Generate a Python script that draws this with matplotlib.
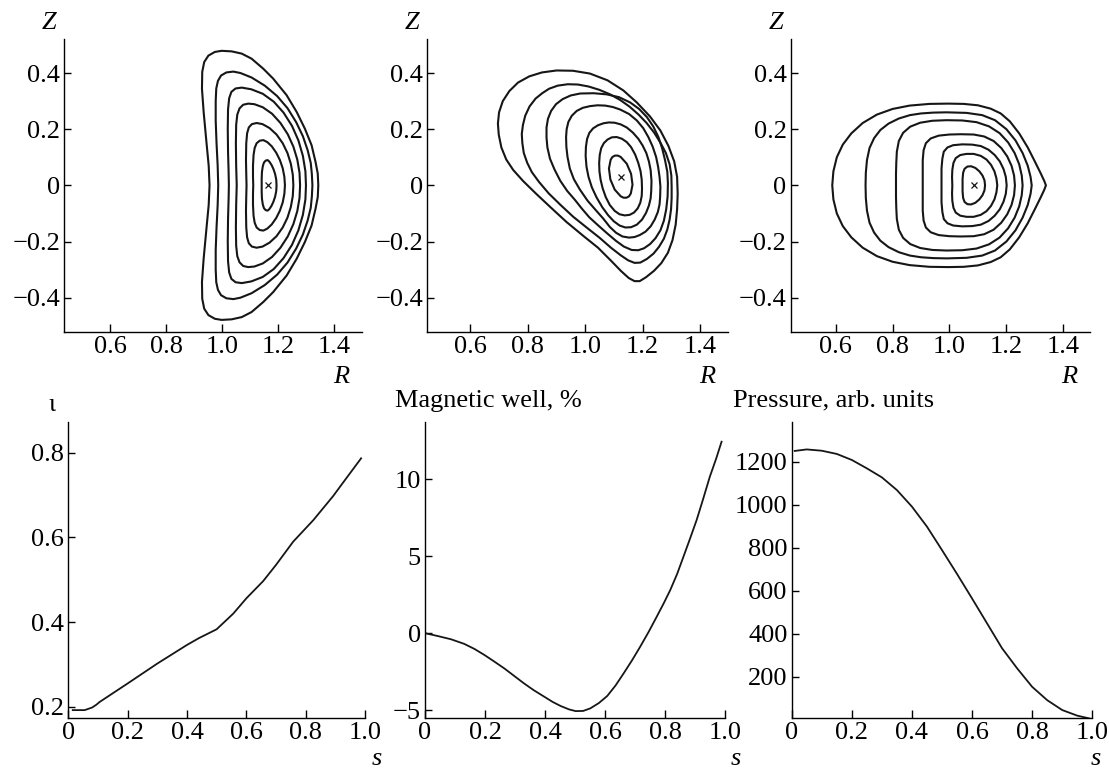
import matplotlib.pyplot as plt
from matplotlib.patches import Polygon
import numpy as np

plt.rcParams["font.family"] = ["Liberation Serif", "DejaVu Serif"]
plt.rcParams["font.size"] = 19
plt.rcParams["axes.linewidth"] = 1.0
plt.rcParams["xtick.direction"] = "in"
plt.rcParams["ytick.direction"] = "in"
plt.rcParams["xtick.major.size"] = 6
plt.rcParams["ytick.major.size"] = 5
plt.rcParams["xtick.major.width"] = 1.0
plt.rcParams["ytick.major.width"] = 1.0
plt.rcParams["xtick.major.pad"] = 3
plt.rcParams["ytick.major.pad"] = 3

INK = "#161616"

# Flux surfaces in three cross-sections, (R, Z) pairs.
# Sections a and c are up-down symmetric: only the upper half is listed,
# from the outboard midplane round to the inboard one.
surfaces_a = [
    [(1.343, 0.000), (1.341, 0.042), (1.333, 0.084), (1.319, 0.143), (1.295, 0.202), (1.266, 0.261),
     (1.230, 0.321), (1.182, 0.380), (1.147, 0.415), (1.105, 0.451), (1.070, 0.469), (1.034, 0.477),
     (0.998, 0.479), (0.974, 0.475), (0.951, 0.462), (0.936, 0.439), (0.929, 0.404), (0.928, 0.344),
     (0.934, 0.261), (0.945, 0.143), (0.952, 0.070), (0.955, 0.000)],
    [(1.322, 0.000), (1.320, 0.040), (1.316, 0.080), (1.305, 0.125), (1.288, 0.175), (1.264, 0.225),
     (1.233, 0.275), (1.196, 0.318), (1.152, 0.355), (1.105, 0.384), (1.065, 0.400), (1.040, 0.405),
     (1.015, 0.402), (0.996, 0.391), (0.985, 0.372), (0.979, 0.345), (0.977, 0.300), (0.977, 0.230),
     (0.980, 0.150), (0.984, 0.070), (0.986, 0.000)],
    [(1.299, 0.000), (1.297, 0.050), (1.288, 0.105), (1.272, 0.160), (1.249, 0.212), (1.219, 0.259),
     (1.184, 0.298), (1.145, 0.326), (1.104, 0.342), (1.070, 0.348), (1.048, 0.345), (1.033, 0.333),
     (1.025, 0.310), (1.021, 0.270), (1.020, 0.200), (1.021, 0.120), (1.023, 0.050), (1.024, 0.000)],
    [(1.278, 0.000), (1.276, 0.045), (1.268, 0.092), (1.254, 0.138), (1.234, 0.182), (1.208, 0.222),
     (1.178, 0.255), (1.145, 0.278), (1.115, 0.289), (1.093, 0.291), (1.075, 0.287), (1.062, 0.274),
     (1.054, 0.252), (1.050, 0.215), (1.049, 0.150), (1.050, 0.070), (1.052, 0.000)],
    [(1.254, 0.000), (1.252, 0.038), (1.245, 0.077), (1.233, 0.115), (1.216, 0.150), (1.194, 0.181),
     (1.169, 0.204), (1.144, 0.218), (1.123, 0.222), (1.106, 0.218), (1.095, 0.206), (1.089, 0.185),
     (1.086, 0.150), (1.085, 0.090), (1.086, 0.040), (1.087, 0.000)],
    [(1.224, 0.000), (1.222, 0.030), (1.216, 0.061), (1.206, 0.090), (1.193, 0.116), (1.177, 0.139),
     (1.161, 0.154), (1.147, 0.161), (1.134, 0.159), (1.123, 0.150), (1.116, 0.133), (1.112, 0.108),
     (1.110, 0.070), (1.110, 0.030), (1.111, 0.000)],
    [(1.194, 0.000), (1.193, 0.020), (1.189, 0.040), (1.183, 0.058), (1.176, 0.073), (1.168, 0.085),
     (1.162, 0.090), (1.155, 0.088), (1.149, 0.081), (1.145, 0.068), (1.142, 0.048), (1.141, 0.024),
     (1.141, 0.000)],
]
axis_a = (1.162, 0.0)

# section b has no symmetry, full loops
surfaces_b = [
    [(1.322, -0.030), (1.320, 0.030), (1.310, 0.085), (1.290, 0.140), (1.262, 0.195), (1.226, 0.245),
     (1.180, 0.295), (1.133, 0.338), (1.078, 0.374), (1.017, 0.398), (0.958, 0.408), (0.901, 0.409),
     (0.850, 0.402), (0.806, 0.388), (0.767, 0.366), (0.737, 0.336), (0.714, 0.300), (0.701, 0.260),
     (0.697, 0.220), (0.700, 0.180), (0.709, 0.135), (0.726, 0.092), (0.750, 0.055), (0.785, 0.015),
     (0.830, -0.030), (0.880, -0.078), (0.935, -0.130), (0.994, -0.180), (1.045, -0.222), (1.090, -0.268),
     (1.125, -0.305), (1.152, -0.330), (1.172, -0.341), (1.190, -0.341), (1.212, -0.327), (1.240, -0.304),
     (1.265, -0.277), (1.288, -0.240), (1.304, -0.195), (1.315, -0.140), (1.320, -0.085)],
    [(1.301, -0.005), (1.300, 0.035), (1.294, 0.075), (1.281, 0.115), (1.262, 0.152), (1.240, 0.188),
     (1.214, 0.222), (1.186, 0.252), (1.155, 0.280), (1.122, 0.304), (1.087, 0.324), (1.050, 0.340),
     (1.012, 0.352), (0.975, 0.359), (0.940, 0.360), (0.905, 0.355), (0.875, 0.344), (0.851, 0.328),
     (0.828, 0.309), (0.807, 0.281), (0.792, 0.248), (0.784, 0.215), (0.780, 0.183), (0.782, 0.150),
     (0.787, 0.115), (0.799, 0.080), (0.815, 0.047), (0.840, 0.012), (0.874, -0.029), (0.914, -0.069),
     (0.959, -0.112), (1.009, -0.153), (1.051, -0.187), (1.090, -0.222), (1.124, -0.249), (1.150, -0.267),
     (1.172, -0.276), (1.192, -0.275), (1.215, -0.262), (1.238, -0.243), (1.257, -0.219), (1.274, -0.190),
     (1.286, -0.157), (1.294, -0.122), (1.299, -0.085), (1.301, -0.045)],
    [(1.288, 0.007), (1.286, 0.048), (1.278, 0.090), (1.268, 0.132), (1.255, 0.172), (1.237, 0.210),
     (1.215, 0.243), (1.188, 0.272), (1.157, 0.295), (1.118, 0.314), (1.075, 0.324), (1.030, 0.328),
     (0.983, 0.327), (0.950, 0.320), (0.922, 0.307), (0.899, 0.289), (0.882, 0.265), (0.871, 0.237),
     (0.866, 0.206), (0.866, 0.170), (0.869, 0.135), (0.878, 0.095), (0.894, 0.056), (0.914, 0.016),
     (0.938, -0.020), (0.965, -0.052), (0.989, -0.083), (1.015, -0.114), (1.046, -0.143), (1.078, -0.172),
     (1.108, -0.198), (1.135, -0.218), (1.162, -0.230), (1.185, -0.231), (1.205, -0.224), (1.226, -0.209),
     (1.245, -0.188), (1.262, -0.160), (1.274, -0.126), (1.282, -0.086), (1.287, -0.040)],
    [(1.261, -0.040), (1.262, -0.005), (1.259, 0.030), (1.254, 0.066), (1.247, 0.101), (1.235, 0.138),
     (1.220, 0.172), (1.202, 0.204), (1.180, 0.231), (1.153, 0.254), (1.122, 0.270), (1.096, 0.279),
     (1.070, 0.284), (1.043, 0.285), (1.017, 0.282), (0.992, 0.276), (0.971, 0.265), (0.954, 0.248),
     (0.942, 0.226), (0.936, 0.200), (0.934, 0.172), (0.935, 0.137), (0.939, 0.101), (0.947, 0.060),
     (0.961, 0.022), (0.982, -0.015), (1.009, -0.055), (1.037, -0.088), (1.063, -0.118), (1.086, -0.148),
     (1.108, -0.169), (1.130, -0.182), (1.153, -0.186), (1.172, -0.184), (1.190, -0.177), (1.210, -0.165),
     (1.228, -0.146), (1.242, -0.122), (1.253, -0.095), (1.259, -0.068)],
    [(1.230, -0.020), (1.231, 0.015), (1.228, 0.054), (1.222, 0.085), (1.213, 0.115), (1.200, 0.142),
     (1.185, 0.166), (1.166, 0.188), (1.145, 0.206), (1.124, 0.217), (1.103, 0.223), (1.083, 0.224),
     (1.064, 0.221), (1.045, 0.214), (1.028, 0.203), (1.015, 0.187), (1.007, 0.165), (1.003, 0.137),
     (1.002, 0.105), (1.005, 0.066), (1.012, 0.030), (1.024, -0.008), (1.040, -0.043), (1.060, -0.078),
     (1.080, -0.106), (1.100, -0.128), (1.120, -0.143), (1.140, -0.150), (1.160, -0.149), (1.180, -0.140),
     (1.198, -0.122), (1.212, -0.098), (1.222, -0.072), (1.228, -0.046)],
    [(1.198, -0.012), (1.197, 0.020), (1.193, 0.050), (1.185, 0.080), (1.174, 0.110), (1.160, 0.136),
     (1.145, 0.154), (1.128, 0.166), (1.110, 0.172), (1.093, 0.171), (1.078, 0.163), (1.065, 0.150),
     (1.056, 0.132), (1.051, 0.108), (1.049, 0.080), (1.050, 0.050), (1.054, 0.020), (1.061, -0.010),
     (1.072, -0.042), (1.086, -0.070), (1.103, -0.091), (1.120, -0.103), (1.138, -0.107), (1.155, -0.105),
     (1.170, -0.097), (1.183, -0.082), (1.192, -0.062), (1.197, -0.038)],
    [(1.160, 0.041), (1.145, 0.077), (1.124, 0.101), (1.114, 0.106), (1.104, 0.106), (1.095, 0.101),
     (1.089, 0.091), (1.083, 0.060), (1.088, 0.021), (1.103, -0.015), (1.124, -0.039), (1.134, -0.044),
     (1.144, -0.044), (1.153, -0.039), (1.159, -0.029), (1.165, 0.002)],
]
axis_b = (1.125, 0.028)

surfaces_c = [
    [(1.339, 0.000), (1.333, 0.016), (1.321, 0.042), (1.300, 0.085), (1.275, 0.135), (1.245, 0.185),
     (1.212, 0.228), (1.180, 0.256), (1.145, 0.273), (1.100, 0.285), (1.050, 0.290), (0.996, 0.291),
     (0.930, 0.290), (0.860, 0.284), (0.800, 0.272), (0.745, 0.252), (0.695, 0.222), (0.655, 0.185),
     (0.625, 0.145), (0.604, 0.100), (0.592, 0.050), (0.588, 0.000)],
    [(1.289, 0.000), (1.285, 0.030), (1.275, 0.070), (1.257, 0.115), (1.232, 0.160), (1.200, 0.200),
     (1.160, 0.232), (1.115, 0.250), (1.060, 0.258), (0.990, 0.260), (0.943, 0.259), (0.900, 0.256),
     (0.861, 0.250), (0.822, 0.238), (0.786, 0.220), (0.757, 0.197), (0.735, 0.168), (0.719, 0.133),
     (0.710, 0.090), (0.706, 0.045), (0.705, 0.000)],
    [(1.257, 0.000), (1.254, 0.035), (1.245, 0.075), (1.229, 0.115), (1.206, 0.153), (1.176, 0.186),
     (1.139, 0.210), (1.095, 0.225), (1.045, 0.231), (0.990, 0.232), (0.940, 0.230), (0.897, 0.223),
     (0.862, 0.209), (0.837, 0.187), (0.822, 0.158), (0.815, 0.120), (0.813, 0.080), (0.812, 0.040),
     (0.812, 0.000)],
    [(1.230, 0.000), (1.227, 0.035), (1.218, 0.070), (1.203, 0.103), (1.182, 0.133), (1.155, 0.158),
     (1.122, 0.174), (1.085, 0.181), (1.040, 0.182), (1.000, 0.181), (0.962, 0.177), (0.934, 0.167),
     (0.917, 0.150), (0.909, 0.125), (0.906, 0.090), (0.906, 0.045), (0.906, 0.000)],
    [(1.201, 0.000), (1.198, 0.030), (1.190, 0.058), (1.177, 0.085), (1.159, 0.108), (1.137, 0.127),
     (1.110, 0.140), (1.080, 0.145), (1.045, 0.146), (1.013, 0.143), (0.993, 0.135), (0.980, 0.120),
     (0.975, 0.095), (0.972, 0.060), (0.972, 0.030), (0.972, 0.000)],
    [(1.168, 0.000), (1.165, 0.025), (1.158, 0.050), (1.146, 0.073), (1.130, 0.092), (1.110, 0.105),
     (1.085, 0.112), (1.060, 0.112), (1.038, 0.108), (1.022, 0.097), (1.014, 0.080), (1.010, 0.055),
     (1.009, 0.030), (1.010, 0.000)],
    [(1.125, 0.000), (1.123, 0.018), (1.116, 0.035), (1.105, 0.050), (1.091, 0.062), (1.076, 0.068),
     (1.063, 0.067), (1.053, 0.059), (1.048, 0.045), (1.046, 0.022), (1.046, 0.000)],
]
axis_c = (1.087, 0.0)

# radial profiles vs normalised flux s
s_iota = [0.015, 0.055, 0.080, 0.095, 0.105, 0.20, 0.30, 0.40, 0.44, 0.50, 0.556, 0.60,
          0.657, 0.70, 0.758, 0.826, 0.893, 0.916, 0.987]
iota = [0.192, 0.192, 0.198, 0.205, 0.211, 0.255, 0.302, 0.346, 0.362, 0.383, 0.420, 0.456,
        0.497, 0.535, 0.590, 0.641, 0.698, 0.720, 0.787]

s_well = [0.004, 0.043, 0.087, 0.131, 0.165, 0.198, 0.231, 0.264, 0.297, 0.330, 0.363, 0.397,
          0.425, 0.452, 0.480, 0.502, 0.527, 0.551, 0.579, 0.607, 0.635, 0.662, 0.690, 0.717,
          0.745, 0.772, 0.795, 0.817, 0.840, 0.861, 0.883, 0.905, 0.927, 0.949, 0.970, 0.988]
well = [-0.02, -0.19, -0.40, -0.70, -1.03, -1.42, -1.85, -2.29, -2.78, -3.27, -3.72, -4.13,
        -4.47, -4.74, -4.96, -5.07, -5.06, -4.89, -4.55, -4.09, -3.40, -2.61, -1.76, -0.88,
        0.08, 1.07, 1.93, 2.80, 3.85, 4.97, 6.15, 7.36, 8.75, 10.18, 11.35, 12.45]

s_pres = [0.01, 0.05, 0.10, 0.15, 0.20, 0.25, 0.30, 0.35, 0.40, 0.45, 0.50, 0.55, 0.60,
          0.65, 0.70, 0.75, 0.80, 0.85, 0.90, 0.95, 0.99]
pres = [1250, 1257, 1251, 1236, 1208, 1169, 1127, 1068, 991, 898, 789, 678, 564,
        448, 332, 239, 153, 91, 45, 19, 6]

rz_ticks = [0.6, 0.8, 1.0, 1.2, 1.4]
rz_tick_labels = ["0.6", "0.8", "1.0", "1.2", "1.4"]
z_ticks = [-0.4, -0.2, 0.0, 0.2, 0.4]
z_tick_labels = ["\u22120.4", "\u22120.2", "0", "0.2", "0.4"]
s_ticks = [0, 0.2, 0.4, 0.6, 0.8, 1.0]
s_tick_labels = ["0", "0.2", "0.4", "0.6", "0.8", "1.0"]


def closed_loop(points, symmetric):
    pts = np.array(points)
    if symmetric:
        lower = pts[-2:0:-1] * [1, -1]
        pts = np.vstack([pts, lower])
    return pts


def bare(ax):
    ax.spines["top"].set_visible(False)
    ax.spines["right"].set_visible(False)


fig = plt.figure(figsize=(11.09, 7.69), dpi=100)

sections = [
    (surfaces_a, axis_a, True, [0.0580, 0.5683, 0.2682, 0.3806], (0.437, 1.498)),
    (surfaces_b, axis_b, False, [0.3853, 0.5683, 0.2709, 0.3806], (0.4515, 1.496)),
    (surfaces_c, axis_c, True, [0.7130, 0.5683, 0.2699, 0.3806], (0.442, 1.494)),
]

for surfaces, axis_pt, symmetric, rect, xlim in sections:
    ax = fig.add_axes(rect)
    for surf in surfaces:
        loop = Polygon(closed_loop(surf, symmetric), closed=True, fill=False,
                       edgecolor=INK, lw=1.5, joinstyle="round")
        ax.add_patch(loop)
    ax.plot(axis_pt[0], axis_pt[1], marker="x", ms=4.5, mew=0.9, color=INK)
    ax.set_xlim(*xlim)
    ax.set_ylim(-0.522, 0.52)
    ax.set_xticks(rz_ticks)
    ax.set_xticklabels(rz_tick_labels)
    ax.set_yticks(z_ticks)
    ax.set_yticklabels(z_tick_labels)
    bare(ax)
    ax.text(-0.075, 1.034, "Z", transform=ax.transAxes, style="italic", ha="left", va="baseline")
    ax.text(0.932, -0.174, "R", transform=ax.transAxes, style="italic", ha="center", va="baseline")

profiles = [
    (s_iota, iota, [0.0616, 0.0659, 0.2675, 0.3849], (0.1726, 0.872),
     [0.2, 0.4, 0.6, 0.8], ["0.2", "0.4", "0.6", "0.8"], "\u03b9", -0.068, 1.039),
    (s_well, well, [0.3832, 0.0659, 0.2707, 0.3849], (-5.54, 13.71),
     [-5, 0, 5, 10], ["\u22125", "0", "5", "10"], "Magnetic well, %", -0.10, 1.052),
    (s_pres, pres, [0.7139, 0.0659, 0.2710, 0.3849], (6.5, 1383),
     [200, 400, 600, 800, 1000, 1200], ["200", "400", "600", "800", "1000", "1200"],
     "Pressure, arb. units", -0.195, 1.052),
]
s_label_x = [1.039, 1.036, 1.012]

for (s, val, rect, ylim, yt, ytl, title, tx, ty), sx in zip(profiles, s_label_x):
    ax = fig.add_axes(rect)
    ax.plot(s, val, color=INK, lw=1.3, solid_joinstyle="round")
    ax.set_xlim(0, 1.0)
    ax.set_ylim(*ylim)
    ax.set_xticks(s_ticks)
    ax.set_xticklabels(s_tick_labels)
    ax.set_yticks(yt)
    ax.set_yticklabels(ytl)
    bare(ax)
    ax.text(tx, ty, title, transform=ax.transAxes, ha="left", va="baseline")
    ax.text(sx, -0.158, "s", transform=ax.transAxes, style="italic", ha="center", va="baseline")

fig.savefig("out.png", dpi=100)
